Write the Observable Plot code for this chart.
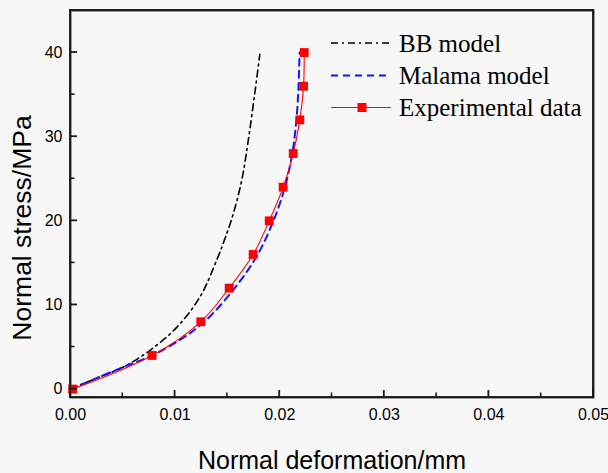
<!DOCTYPE html>
<html>
<head>
<meta charset="utf-8">
<script src="https://cdn.jsdelivr.net/npm/d3@7"></script>
<script src="https://cdn.jsdelivr.net/npm/@observablehq/plot@0.6"></script>
<style>
  html, body { margin: 0; padding: 0; background: #f7f7f7; }
</style>
</head>
<body>
<div id="chart"></div>
<script>
// Experimental data
const expX = [0.0002, 0.0078, 0.01246, 0.01517, 0.01746, 0.0190, 0.02033, 0.02129, 0.02192, 0.02228, 0.02234];
const expY = [0, 4, 8, 12, 16, 20, 24, 28, 32, 36, 40];
// BB model curve
const bbX = [0, 0.0025, 0.0051, 0.0077, 0.0102, 0.0124, 0.0140, 0.0148, 0.0156, 0.0164, 0.0170, 0.0176, 0.0181];
const bbY = [0, 1.3, 2.65, 4.7, 7.4, 11.0, 15.4, 18.0, 21.0, 25.0, 29.6, 35.0, 39.8];
// Malama model curve
const malX = [0, 0.0025, 0.005, 0.0078, 0.0104, 0.0128, 0.0157, 0.0179, 0.0194, 0.0205, 0.0212, 0.0216, 0.0218, 0.0219];
const malY = [0, 1.3, 2.6, 4.0, 5.8, 8, 12, 16, 20, 24, 28, 32, 36, 40];
// Ticks
const xMajor = [0, 0.01, 0.02, 0.03, 0.04, 0.05];
const xMinor = [0.005, 0.015, 0.025, 0.035, 0.045];
const yMajor = [0, 10, 20, 30, 40];
const yMinor = [5, 15, 25, 35];
// Legend and titles
const legendNames = ["BB model", "Malama model", "Experimental data"];
const axisTitles = {x: "Normal deformation/mm", y: "Normal stress/MPa"};

const W = 608, H = 473;
const M = {top: 10, right: 15, bottom: 76, left: 70};

const exp = expX.map((x, i) => ({x, y: expY[i]}));
const bb = bbX.map((x, i) => ({x, y: bbY[i]}));
const mal = malX.map((x, i) => ({x, y: malY[i]}));

const chart = Plot.plot({
  width: W, height: H,
  marginTop: M.top, marginRight: M.right, marginBottom: M.bottom, marginLeft: M.left,
  style: {background: "transparent", fontFamily: "'Liberation Sans', Arial, sans-serif"},
  x: {domain: [0, 0.05]},
  y: {domain: [-1, 45]},
  marks: [
    Plot.frame({stroke: "#1a1a1a", strokeWidth: 1.8}),
    Plot.axisX({ticks: xMajor, tickSize: 0, tickPadding: 11, tickFormat: d3.format(".2f"), fontSize: 16, label: null}),
    Plot.axisY({ticks: yMajor, tickSize: 0, tickPadding: 8, fontSize: 16, label: null}),
    Plot.line(bb, {x: "x", y: "y", stroke: "#000", strokeWidth: 1.6, strokeDasharray: "7,4,2,4", curve: "catmull-rom"}),
    Plot.line(mal, {x: "x", y: "y", stroke: "#1414ff", strokeWidth: 2, strokeDasharray: "7,5", curve: "catmull-rom"}),
    Plot.line(exp, {x: "x", y: "y", stroke: "#ff0000", strokeWidth: 1.1, curve: "catmull-rom"}),
    Plot.dot(exp, {x: "x", y: "y", symbol: "square", r: 5, fill: "#ff0000", stroke: "none"}),
    Plot.text([axisTitles.x], {frameAnchor: "bottom", dy: 63, fontSize: 25, lineAnchor: "middle", textAnchor: "middle", fill: "#000"}),
    Plot.text([axisTitles.y], {frameAnchor: "left", dx: -48, dy: 24, rotate: -90, fontSize: 26.5, lineAnchor: "middle", textAnchor: "middle", fill: "#000"})
  ]
});
document.getElementById("chart").append(chart);

// Frame edges and inward ticks as filled bars, positioned with Plot's own scales
const sx = chart.scale("x"), sy = chart.scale("y");
const [x0, x1] = sx.range, [y0, y1] = sy.range; // y0 = bottom, y1 = top
const svg = d3.select(chart);
const ink = "#1a1a1a", lw = 1.8, h = lw / 2;
const bar = (x, y, w, hh) => svg.append("rect").attr("x", x).attr("y", y).attr("width", w).attr("height", hh).attr("fill", ink);
bar(x0 - h, y1 - h, x1 - x0 + lw, lw);   // top
bar(x0 - h, y0 - h, x1 - x0 + lw, lw);   // bottom
bar(x0 - h, y1 - h, lw, y0 - y1 + lw);   // left
bar(x1 - h, y1 - h, lw, y0 - y1 + lw);   // right
xMajor.forEach(v => bar(sx.apply(v) - h, y0 - 7, lw, 7));
xMinor.forEach(v => bar(sx.apply(v) - 0.8, y0 - 4.5, 1.6, 4.5));
yMajor.forEach(v => bar(x0, sy.apply(v) - h, 7, lw));
yMinor.forEach(v => bar(x0, sy.apply(v) - 0.8, 4.5, 1.6));

// Legend (inside frame, upper right)
const lg = svg.append("g").attr("class", "legend").attr("text-anchor", "start");
const rowsY = [43, 75.5, 107.5];
const styles = [
  {stroke: "#000", dash: "7,4,2,4", w: 1.6},
  {stroke: "#1414ff", dash: "7,5", w: 2},
  {stroke: "#ff0000", dash: null, w: 1.1}
];
legendNames.forEach((name, i) => {
  const y = rowsY[i];
  lg.append("line").attr("x1", 331).attr("x2", 391).attr("y1", y).attr("y2", y)
    .attr("stroke", styles[i].stroke).attr("stroke-width", styles[i].w)
    .attr("stroke-dasharray", styles[i].dash);
  if (i === 2) lg.append("rect").attr("x", 357.5).attr("y", y - 4.5).attr("width", 9).attr("height", 9).attr("fill", "#ff0000");
  lg.append("text").attr("x", 399).attr("y", y + 8.5).attr("font-family", "'Liberation Serif', 'Times New Roman', serif")
    .attr("font-size", 25).attr("fill", "#000").text(name);
});
</script>
</body>
</html>
